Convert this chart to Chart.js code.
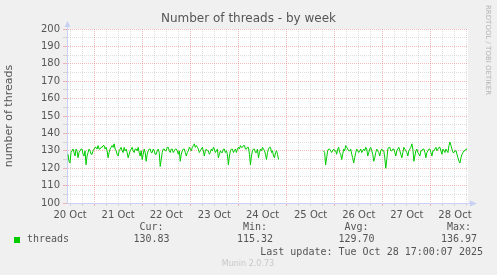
<!DOCTYPE html>
<html>
<head>
<meta charset="utf-8">
<script src="https://cdn.jsdelivr.net/npm/chart.js@4.4.1/dist/chart.umd.min.js"></script>
<style>
  html, body { margin: 0; padding: 0; background: #f0f0f0; }
  #wrap { position: relative; width: 497px; height: 275px; overflow: hidden; background: #f0f0f0; }
  canvas { position: absolute; left: 0; top: 0; }
  .t { position: absolute; white-space: pre; }
  .mono { font-family: "DejaVu Sans Mono", monospace; font-size: 10px; line-height: 10px; color: #555; }
</style>
</head>
<body>
<div id="wrap">
  <canvas id="c" width="497" height="275"></canvas>
  <div id="title" class="t" style="left:0;width:497px;top:11px;text-align:center;font-family:'DejaVu Sans';font-size:12px;line-height:14px;color:#555;"></div>
  <div id="side" class="t" style="left:483px;top:5px;width:9px;writing-mode:vertical-rl;font-family:'DejaVu Sans';font-size:7px;line-height:9px;color:#b4b4b4;"></div>
  <div id="legend"></div>
</div>
<script>
// ---- data ----
const chartTitle = 'Number of threads - by week';
const yAxisTitle = 'number of threads';
const sideText = 'RRDTOOL / TOBI OETIKER';
const dayLabels = ['20 Oct', '21 Oct', '22 Oct', '23 Oct', '24 Oct', '25 Oct', '26 Oct', '27 Oct', '28 Oct'];
const seriesName = 'threads';
const statNames = ['Cur:', 'Min:', 'Avg:', 'Max:'];
const statValues = ['130.83', '115.32', '129.70', '136.97'];
const lastUpdate = 'Last update: Tue Oct 28 17:00:07 2025';
const footer = 'Munin 2.0.73';
const startHour = 11;   // hours after 20 Oct 00:00
const stepHours = 0.5;  // one sample every 30 minutes
const threads = [
  128,124,123,129,130,131,129,127,131,130,
  126,129,130,131,131,128,127,130,122,127,
  129,131,130,128,128,130,131,132,132,131,
  133,131,131,132,132,133,133,131,132,130,
  126,129,131,132,133,132,134,131,130,128,
  127,130,131,132,130,129,132,130,131,129,
  126,128,130,131,132,130,129,131,131,130,
  132,129,127,130,125,128,131,129,124,128,
  130,131,131,129,129,131,130,128,128,130,
  131,129,121,125,129,131,131,130,130,132,
  132,130,129,131,131,129,130,131,131,130,
  128,130,124,128,130,131,131,129,127,129,
  130,132,131,130,132,133,134,132,133,132,
  131,129,130,131,132,130,127,130,131,130,
  130,128,129,131,130,132,131,129,130,131,
  126,128,130,129,129,131,131,129,130,128,
  122,127,130,131,131,129,130,131,129,131,
  132,131,133,132,132,133,133,131,131,132,
  132,128,122,127,130,131,131,129,129,131,
  126,129,131,130,132,131,130,128,125,129,
  131,132,132,129,130,127,126,129,130,128,
  125,
  null,null,null,null,null,null,null,null,null,null,null,
  null,null,null,null,null,null,null,null,null,null,null,
  null,null,null,null,null,null,null,null,null,null,null,
  null,null,null,null,null,null,null,null,null,null,null,
  130,129,122,126,130,131,131,130,129,130,
  131,130,130,128,131,132,129,128,125,128,
  131,130,133,132,131,130,130,131,128,126,
  123,126,129,131,130,129,130,131,129,130,
  131,130,132,131,127,129,131,132,130,128,
  124,126,129,131,130,129,127,130,131,130,
  130,126,120,125,131,132,132,130,130,131,
  131,129,127,130,131,132,130,128,126,129,
  132,131,130,129,127,130,131,132,134,131,
  124,127,130,131,129,128,127,130,130,131,
  131,129,126,129,130,131,131,129,127,130,
  130,131,132,130,131,132,132,130,128,131,
  130,129,131,130,129,133,135,133,131,129,
  129,130,130,128,126,124,123,126,128,129,
  130,130,131,131
];

// ---- styles ----
const AXIS = '#c8d0f4';
const MGRID = 'rgba(232,80,80,0.38)';
const GRID = 'rgba(150,150,150,0.30)';
const FONT = '#555';

document.getElementById('title').textContent = chartTitle;
document.getElementById('side').textContent = sideText;

// legend
const legend = document.getElementById('legend');
function addText(txt, css) {
  const d = document.createElement('div');
  d.className = 't mono';
  d.textContent = txt;
  d.style.cssText += css;
  legend.appendChild(d);
  return d;
}
const sw = document.createElement('div');
sw.style.cssText = 'position:absolute;left:14px;top:237px;width:6px;height:6px;background:#00cc00;';
legend.appendChild(sw);
addText(seriesName, 'left:27px;top:234px;');
const colCenters = [151.5, 255, 356.5, 459];
statNames.forEach((n, i) => {
  addText(n, `left:${colCenters[i]-40}px;width:80px;text-align:center;top:222px;`);
  addText(statValues[i], `left:${colCenters[i]-40}px;width:80px;text-align:center;top:234px;`);
});
addText(lastUpdate, 'right:14px;top:247px;text-align:right;');
const f = document.createElement('div');
f.className = 't';
f.textContent = footer;
f.style.cssText += 'left:148px;width:200px;text-align:center;top:259px;font-family:"DejaVu Sans";font-size:8px;line-height:9px;color:#c8c8c8;';
legend.appendChild(f);

const canvasBg = {
  id: 'canvasBg',
  beforeDraw(chart) {
    const {ctx, chartArea: a} = chart;
    ctx.save();
    ctx.fillStyle = '#ffffff';
    ctx.fillRect(a.left, a.top, a.right - a.left, a.bottom - a.top);
    ctx.restore();
  }
};

const arrows = {
  id: 'arrows',
  afterDraw(chart) {
    const {ctx, chartArea: a} = chart;
    ctx.save();
    ctx.strokeStyle = AXIS;
    ctx.fillStyle = AXIS;
    ctx.lineWidth = 1;
    ctx.beginPath();
    ctx.moveTo(a.left + 0.5, a.top);
    ctx.lineTo(a.left + 0.5, a.top - 3);
    ctx.moveTo(a.right, a.bottom + 0.5);
    ctx.lineTo(a.right + 3, a.bottom + 0.5);
    ctx.stroke();
    ctx.beginPath();
    ctx.moveTo(a.left + 0.5, a.top - 8);
    ctx.lineTo(a.left - 2.5, a.top - 2);
    ctx.lineTo(a.left + 3.5, a.top - 2);
    ctx.closePath();
    ctx.fill();
    ctx.beginPath();
    ctx.moveTo(a.right + 9, a.bottom + 0.5);
    ctx.lineTo(a.right + 2, a.bottom - 2.5);
    ctx.lineTo(a.right + 2, a.bottom + 3.5);
    ctx.closePath();
    ctx.fill();
    ctx.restore();
  }
};

const xMin = 10.5, xMax = 210.5;

new Chart(document.getElementById('c'), {
  type: 'line',
  data: {
    datasets: [{
      label: seriesName,
      data: threads.map((v, i) => ({x: startHour + i * stepHours, y: v})),
      borderColor: '#00cc00',
      backgroundColor: '#00cc00',
      borderWidth: 1,
      pointRadius: 0,
      tension: 0,
      spanGaps: false
    }]
  },
  options: {
    responsive: false,
    animation: false,
    devicePixelRatio: 1,
    layout: { padding: { left: 0, top: 29, right: 29, bottom: 52 } },
    plugins: { legend: { display: false }, title: { display: false }, tooltip: { enabled: false } },
    scales: {
      x: {
        type: 'linear',
        min: xMin,
        max: xMax,
        afterBuildTicks(scale) {
          const t = [];
          for (let h = 12; h <= xMax; h += 6) t.push({value: h});
          scale.ticks = t;
        },
        afterFit(scale) { scale.height = 20; },
        ticks: {
          autoSkip: false,
          maxRotation: 0,
          padding: 3,
          color: FONT,
          font: { family: 'DejaVu Sans', size: 10 },
          callback(v) {
            if ((v - 12) % 24 === 0) return dayLabels[(v - 12) / 24] || '';
            return '';
          }
        },
        grid: {
          color: c => (c.tick && c.tick.value % 24 === 0) ? MGRID : GRID,
          tickColor: c => (c.tick && c.tick.value % 24 === 0) ? MGRID : GRID,
          tickLength: 3,
          drawTicks: true
        },
        border: { color: AXIS, width: 1, dash: [1, 1] }
      },
      y: {
        min: 100,
        max: 200,
        afterFit(scale) { scale.width = 67; },
        ticks: {
          stepSize: 5,
          autoSkip: false,
          padding: 3,
          color: FONT,
          font: { family: 'DejaVu Sans', size: 10 },
          callback(v) { return v % 10 === 0 ? String(v) : ''; }
        },
        grid: {
          color: c => (c.tick && c.tick.value % 10 === 0) ? MGRID : GRID,
          tickColor: c => (c.tick && c.tick.value % 10 === 0) ? MGRID : GRID,
          tickLength: 4,
          drawTicks: true
        },
        border: { color: AXIS, width: 1, dash: [1, 1] },
        title: {
          display: true,
          text: yAxisTitle,
          color: FONT,
          font: { family: 'DejaVu Sans', size: 11 },
          padding: { top: 3, bottom: 0 }
        }
      }
    }
  },
  plugins: [canvasBg, arrows]
});
</script>
</body>
</html>
